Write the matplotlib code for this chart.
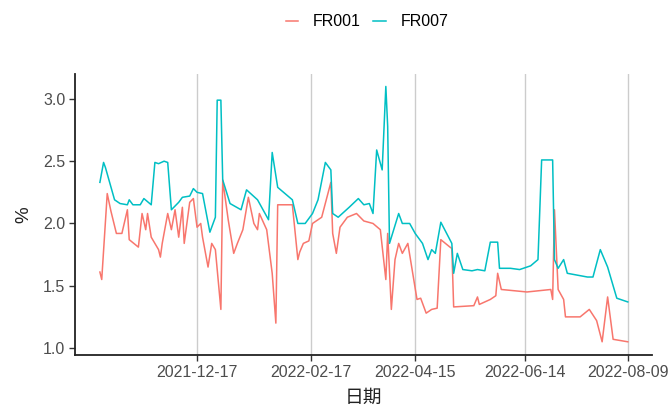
import matplotlib
matplotlib.use("Agg")
import matplotlib.pyplot as plt
import matplotlib.dates as mdates
import pandas as pd

fr007_dates = ["2021-10-25","2021-10-27","2021-10-28","2021-11-02","2021-11-05","2021-11-09","2021-11-10",
    "2021-11-12","2021-11-16","2021-11-18","2021-11-22","2021-11-24","2021-11-26","2021-11-29","2021-12-01",
    "2021-12-03","2021-12-07","2021-12-09","2021-12-13","2021-12-15","2021-12-17","2021-12-20","2021-12-24",
    "2021-12-27","2021-12-28","2021-12-30","2021-12-31","2022-01-04","2022-01-10","2022-01-13","2022-01-19",
    "2022-01-25","2022-01-27","2022-01-30","2022-02-07","2022-02-10","2022-02-14","2022-02-18","2022-02-21",
    "2022-02-25","2022-02-28","2022-03-01","2022-03-04","2022-03-10","2022-03-15","2022-03-18","2022-03-21",
    "2022-03-23","2022-03-25","2022-03-28","2022-03-30","2022-03-31","2022-04-01","2022-04-06","2022-04-08",
    "2022-04-12","2022-04-15","2022-04-19","2022-04-22","2022-04-24","2022-04-26","2022-04-29","2022-05-05",
    "2022-05-06","2022-05-08","2022-05-11","2022-05-16","2022-05-19","2022-05-23","2022-05-26","2022-05-30",
    "2022-05-31","2022-06-06","2022-06-11","2022-06-17","2022-06-21","2022-06-23","2022-06-29","2022-06-30",
    "2022-07-02","2022-07-05","2022-07-07","2022-07-18","2022-07-21","2022-07-25","2022-07-29","2022-08-03",
    "2022-08-09"]
fr007_values = [2.33,2.49,2.45,2.19,2.16,2.15,2.19,
    2.15,2.15,2.20,2.15,2.49,2.48,2.50,2.49,
    2.11,2.17,2.21,2.22,2.28,2.25,2.24,1.93,
    2.05,2.99,2.99,2.35,2.16,2.11,2.27,2.19,
    2.03,2.57,2.29,2.19,2.00,2.00,2.08,2.19,
    2.49,2.43,2.08,2.05,2.13,2.20,2.15,2.16,
    2.08,2.59,2.43,3.10,2.78,1.84,2.08,2.00,
    2.00,1.92,1.84,1.71,1.79,1.76,2.01,1.84,
    1.60,1.76,1.63,1.62,1.63,1.62,1.85,1.85,
    1.64,1.64,1.63,1.66,1.71,2.51,2.51,1.71,
    1.64,1.71,1.60,1.57,1.57,1.79,1.65,1.40,
    1.37]

fr001_dates = ["2021-10-25","2021-10-26","2021-10-29","2021-10-31","2021-11-03","2021-11-06","2021-11-09",
    "2021-11-10","2021-11-15","2021-11-17","2021-11-19","2021-11-20","2021-11-22","2021-11-26","2021-11-27",
    "2021-11-28","2021-12-01","2021-12-03","2021-12-05","2021-12-07","2021-12-09","2021-12-10","2021-12-13",
    "2021-12-15","2021-12-17","2021-12-19","2021-12-20","2021-12-23","2021-12-25","2021-12-27","2021-12-30",
    "2021-12-31","2022-01-03","2022-01-06","2022-01-08","2022-01-11","2022-01-14","2022-01-17","2022-01-19",
    "2022-01-20","2022-01-24","2022-01-27","2022-01-29","2022-01-30","2022-02-07","2022-02-10","2022-02-11",
    "2022-02-13","2022-02-16","2022-02-18","2022-02-23","2022-02-28","2022-03-01","2022-03-03","2022-03-05",
    "2022-03-09","2022-03-14","2022-03-18","2022-03-23","2022-03-27","2022-03-30","2022-03-31","2022-04-02",
    "2022-04-04","2022-04-06","2022-04-08","2022-04-11","2022-04-16","2022-04-18","2022-04-21","2022-04-24",
    "2022-04-27","2022-04-29","2022-05-04","2022-05-05","2022-05-06","2022-05-17","2022-05-19","2022-05-20",
    "2022-05-26","2022-05-29","2022-05-30","2022-06-01","2022-06-15","2022-06-28","2022-06-29","2022-06-30",
    "2022-07-02","2022-07-05","2022-07-06","2022-07-14","2022-07-19","2022-07-23","2022-07-26","2022-07-29",
    "2022-08-01","2022-08-09"]
fr001_values = [1.61,1.55,2.24,2.10,1.92,1.92,2.11,
    1.87,1.81,2.08,1.95,2.08,1.89,1.79,1.73,
    1.84,2.08,1.95,2.11,1.89,2.13,1.84,2.17,
    2.20,1.97,2.00,1.89,1.65,1.84,1.79,1.31,
    2.35,2.03,1.76,1.84,1.95,2.21,2.00,1.95,
    2.08,1.95,1.60,1.20,2.15,2.15,1.71,1.77,
    1.84,1.86,2.00,2.05,2.33,1.92,1.76,1.97,
    2.05,2.08,2.02,2.00,1.95,1.55,1.92,1.31,
    1.71,1.84,1.76,1.84,1.39,1.40,1.28,1.31,
    1.32,1.87,1.81,1.80,1.33,1.34,1.41,1.35,
    1.39,1.42,1.60,1.47,1.45,1.47,1.39,2.11,
    1.47,1.39,1.25,1.25,1.31,1.22,1.05,1.41,
    1.07,1.05]

tick_dates = ["2021-12-17", "2022-02-17", "2022-04-15", "2022-06-14", "2022-08-09"]
y_ticks = [1.0, 1.5, 2.0, 2.5, 3.0]
series_names = ["FR001", "FR007"]
colors = ["#F8766D", "#00BFC4"]

plt.rcParams['font.family'] = ['Liberation Sans', 'Noto Sans CJK SC', 'DejaVu Sans']

fig = plt.figure(figsize=(6.7, 4.09), dpi=100)
ax = fig.add_axes([75/670, 1-355/409, (652-75)/670, (355-74)/409])

td = pd.to_datetime(tick_dates)
for t in td:
    ax.axvline(t, color="#CCCCCC", lw=1.0, zorder=0)

ax.plot(pd.to_datetime(fr001_dates), fr001_values, color=colors[0], lw=1.1, label=series_names[0])
ax.plot(pd.to_datetime(fr007_dates), fr007_values, color=colors[1], lw=1.1, label=series_names[1])

ax.set_xlim(pd.Timestamp("2021-10-11 10:00"), pd.Timestamp("2022-08-22 05:00"))
ax.set_ylim(0.944, 3.20)
ax.set_xticks(td)
ax.set_xticklabels(tick_dates)
ax.set_yticks(y_ticks)
ax.set_yticklabels([f"{v:.1f}" for v in y_ticks])

for s in ["top", "right"]:
    ax.spines[s].set_visible(False)
for s in ["left", "bottom"]:
    ax.spines[s].set_color("#222222")
    ax.spines[s].set_linewidth(1.3)
ax.tick_params(axis="both", colors="#333333", labelcolor="#4D4D4D", labelsize=11.5,
               length=4, width=1.0, pad=3)

ax.set_xlabel("日期", fontsize=13.5, color="#222222", labelpad=5,
              family=['Noto Sans CJK SC', 'DejaVu Sans'])
ax.set_ylabel("%", fontsize=13.5, color="#222222", labelpad=8)

fig.legend(loc="center", bbox_to_anchor=(367/670, 1-22/409), ncol=2, frameon=False,
           fontsize=11.5, handlelength=0.8, handletextpad=0.9, columnspacing=0.8)

fig.savefig("out.png", dpi=100)
